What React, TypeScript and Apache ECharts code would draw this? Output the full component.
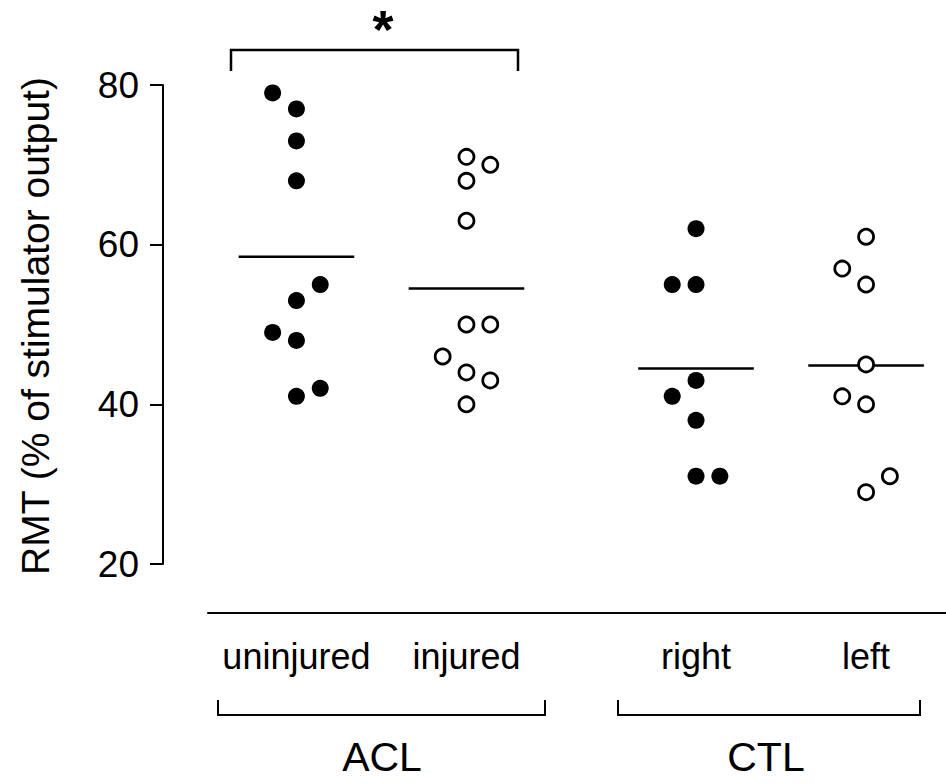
import React, { useEffect, useRef } from "react";
import * as echarts from "echarts";

// RMT values per group (% of stimulator output)
const uninjured = [79, 77, 73, 68, 55, 53, 49, 48, 42, 41];
const injured = [71, 70, 68, 63, 50, 50, 46, 44, 43, 40];
const right = [62, 55, 55, 43, 41, 38, 31, 31];
const left = [61, 57, 55, 45, 41, 40, 31, 29];

// side-by-side slot of each point within its column (-1 left, 0 centre, 1 right)
const uninjuredSlot = [-1, 0, 0, 0, 1, 0, -1, 0, 1, 0];
const injuredSlot = [0, 1, 0, 0, 0, 1, -1, 0, 1, 0];
const rightSlot = [0, -1, 0, 0, -1, 0, 0, 1];
const leftSlot = [0, -1, 0, 0, -1, 0, 1, 0];

const categories = ["uninjured", "injured", "right", "left"];
const categoryPos = [1, 2, 3.35, 4.35];
const yTicks = [20, 40, 60, 80];

const SPREAD = 0.14;
const HALF = 0.34;
const FONT = "'Liberation Sans', Arial, Helvetica, sans-serif";

const mean = (a: number[]) => a.reduce((s, v) => s + v, 0) / a.length;
const points = (vals: number[], slots: number[], pos: number) =>
  vals.map((v, i) => [pos + slots[i] * SPREAD, v]);
const meanLine = (vals: number[], pos: number) => {
  const m = mean(vals);
  return [
    [pos - HALF, m],
    [pos + HALF, m],
  ];
};

export default function App() {
  const ref = useRef<HTMLDivElement>(null);

  useEffect(() => {
    if (!ref.current) return;
    const chart = echarts.init(ref.current, null, { renderer: "svg" });

    const filled = {
      type: "scatter",
      symbol: "circle",
      symbolSize: 17,
      itemStyle: { color: "#000", opacity: 1 },
      z: 3,
    };
    const open = {
      type: "scatter",
      symbol: "circle",
      symbolSize: 15,
      itemStyle: { color: "#fff", borderColor: "#000", borderWidth: 2.8, opacity: 1 },
      z: 3,
    };
    const meanStyle = {
      type: "line",
      symbol: "none",
      lineStyle: { color: "#000", width: 2.5 },
      z: 2,
    };

    chart.setOption({
      animation: false,
      backgroundColor: "#fff",
      grid: { left: 208, right: 0, top: 85, bottom: 220 },
      xAxis: {
        type: "value",
        min: 0.48,
        max: 4.82,
        offset: 49,
        splitLine: { show: false },
        axisLine: { show: true, lineStyle: { color: "#000", width: 2 } },
        axisTick: { show: false },
        axisLabel: {
          customValues: categoryPos,
          formatter: (v: number) => {
            const i = categoryPos.findIndex((p) => Math.abs(p - v) < 1e-6);
            return i >= 0 ? categories[i] : "";
          },
          color: "#000",
          fontFamily: FONT,
          fontSize: 36,
          margin: 25,
        },
      },
      yAxis: {
        type: "value",
        min: 20,
        max: 80,
        interval: 20,
        offset: 45,
        splitLine: { show: false },
        axisLine: { show: true, lineStyle: { color: "#000", width: 2 } },
        axisTick: {
          show: true,
          customValues: yTicks,
          length: 13,
          lineStyle: { color: "#000", width: 2 },
        },
        axisLabel: {
          customValues: yTicks,
          color: "#000",
          fontFamily: FONT,
          fontSize: 37,
          margin: 24,
        },
      },
      graphic: [
        {
          type: "text",
          x: 35,
          y: 326,
          rotation: Math.PI / 2,
          style: {
            text: "RMT (% of stimulator output)",
            fontFamily: FONT,
            fontSize: 39,
            fill: "#000",
            align: "center",
            verticalAlign: "middle",
          },
        },
        // significance bracket
        {
          type: "polyline",
          shape: { points: [[231, 71], [231, 50], [518, 50], [518, 71]] },
          style: { stroke: "#000", lineWidth: 2.5, fill: "none" },
        },
        {
          type: "text",
          x: 383,
          y: 2,
          style: {
            text: "*",
            fontFamily: FONT,
            fontSize: 54,
            fontWeight: "bold",
            fill: "#000",
            align: "center",
            verticalAlign: "top",
          },
        },
        // group brackets
        {
          type: "polyline",
          shape: { points: [[218, 700], [218, 715], [545, 715], [545, 700]] },
          style: { stroke: "#000", lineWidth: 2, fill: "none" },
        },
        {
          type: "polyline",
          shape: { points: [[618, 700], [618, 715], [920, 715], [920, 700]] },
          style: { stroke: "#000", lineWidth: 2, fill: "none" },
        },
        {
          type: "text",
          x: 382,
          y: 757,
          style: {
            text: "ACL",
            fontFamily: FONT,
            fontSize: 41,
            fill: "#000",
            align: "center",
            verticalAlign: "middle",
          },
        },
        {
          type: "text",
          x: 766,
          y: 757,
          style: {
            text: "CTL",
            fontFamily: FONT,
            fontSize: 41,
            fill: "#000",
            align: "center",
            verticalAlign: "middle",
          },
        },
      ],
      series: [
        { ...filled, name: "uninjured", data: points(uninjured, uninjuredSlot, categoryPos[0]) },
        { ...open, name: "injured", data: points(injured, injuredSlot, categoryPos[1]) },
        { ...filled, name: "right", data: points(right, rightSlot, categoryPos[2]) },
        { ...open, name: "left", data: points(left, leftSlot, categoryPos[3]) },
        { ...meanStyle, name: "uninjured mean", data: meanLine(uninjured, categoryPos[0]) },
        { ...meanStyle, name: "injured mean", data: meanLine(injured, categoryPos[1]) },
        { ...meanStyle, name: "right mean", data: meanLine(right, categoryPos[2]) },
        { ...meanStyle, name: "left mean", data: meanLine(left, categoryPos[3]) },
      ],
    });

    return () => chart.dispose();
  }, []);

  return (
    <div
      ref={ref}
      style={{ position: "absolute", left: 0, top: 0, width: 946, height: 784 }}
    />
  );
}
